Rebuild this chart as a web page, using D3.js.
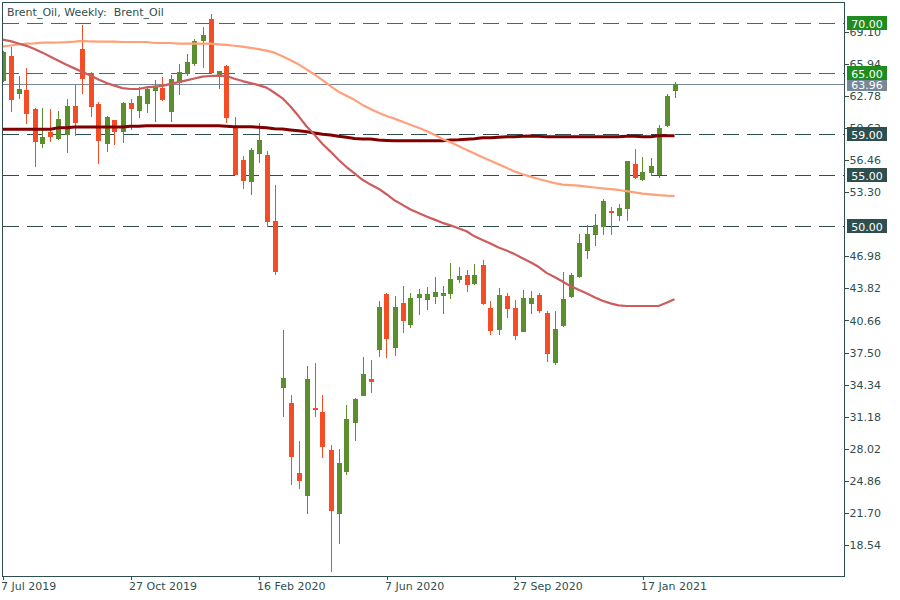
<!DOCTYPE html>
<html><head><meta charset="utf-8">
<script src="https://cdn.jsdelivr.net/npm/d3@7"></script>
<style>
body{margin:0;background:#fff}
svg{display:block}
text{font-family:"DejaVu Sans",sans-serif;font-size:11px}
</style>
</head><body>
<svg id="chart" width="900" height="600"></svg>
<script>
const title = "Brent_Oil, Weekly:  Brent_Oil";
const xTickIndex = [0, 16, 32, 48, 64, 80];
const xTickLabels = ["7 Jul 2019", "27 Oct 2019", "16 Feb 2020", "7 Jun 2020", "27 Sep 2020", "17 Jan 2021"];
const yTickLabels = ["69.10","65.94","62.78","59.62","56.46","53.30","46.98","43.82","40.66","37.50","34.34","31.18","28.02","24.86","21.70","18.54"];
const resistanceLevels = [70, 65];
const supportLevels = [59, 55, 50];

const open = [64.35,66.72,63.07,63.37,61.53,58.18,59.23,58.67,59.00,61.79,
67.41,65.07,61.99,58.18,60.41,59.36,62.09,61.43,62.12,63.40,
63.57,61.33,64.16,65.04,66.03,68.33,70.36,64.98,65.73,59.69,
56.47,54.43,57.19,56.97,50.46,34.14,32.53,25.63,23.50,32.07,
31.65,27.90,21.72,25.86,30.69,33.35,34.87,37.88,43.27,38.08,
42.38,40.34,43.00,42.81,43.10,43.20,43.40,44.78,45.14,44.38,
46.13,41.89,39.85,43.07,41.89,39.65,42.41,43.17,41.40,36.60,
40.22,43.10,45.04,47.64,49.21,50.00,51.45,51.08,51.77,56.08,
54.63,55.32,55.09,59.92,63.40];
const high = [67.20,67.58,64.75,65.51,61.63,61.63,61.53,61.33,62.48,63.86,
69.80,65.17,62.22,60.81,60.41,62.22,62.48,63.67,63.76,64.35,
64.65,64.85,65.93,66.92,68.39,69.58,70.86,65.24,65.83,60.71,
56.87,57.66,60.09,57.36,54.01,39.72,33.32,28.79,36.18,36.47,
33.32,28.39,28.00,32.34,33.03,37.06,36.77,42.58,43.37,43.07,
44.06,43.37,43.76,43.96,44.95,44.06,46.33,45.93,45.64,46.23,
46.62,42.58,43.86,43.37,42.68,43.67,43.57,43.37,41.60,41.60,
45.44,45.37,49.21,50.07,51.15,52.63,51.84,52.13,56.37,57.56,
56.77,56.67,59.92,62.98,64.16];
const low = [64.30,61.33,62.61,60.15,55.91,57.72,58.37,58.57,57.29,58.97,
63.10,60.81,56.21,57.39,58.08,58.28,59.53,60.74,61.23,60.34,
62.41,60.34,63.00,64.85,65.83,65.64,65.07,63.57,60.22,55.09,
53.71,53.12,56.28,50.00,45.24,31.25,24.58,24.19,21.72,31.28,
27.24,16.01,18.77,25.57,28.92,33.35,33.65,37.19,37.09,37.29,
39.56,40.05,41.33,41.80,42.41,41.43,42.91,44.48,43.60,44.29,
42.31,39.36,39.36,41.03,38.87,39.65,41.43,41.53,36.70,36.40,
40.15,43.00,44.95,46.85,48.13,49.21,49.21,50.59,50.59,54.73,
54.53,55.02,54.83,59.82,62.71];
const close = [67.14,62.48,63.47,61.13,58.37,58.74,58.87,60.51,61.79,60.25,
64.58,61.79,58.47,60.71,59.36,62.09,61.63,62.78,63.47,63.67,
62.51,64.45,65.14,66.13,68.20,68.79,65.14,65.24,60.71,55.09,
54.50,57.46,58.44,50.49,45.54,35.00,27.34,24.98,34.90,31.94,
28.33,22.02,26.62,30.96,32.93,35.39,34.73,41.99,38.97,41.99,
40.74,42.88,43.27,43.27,43.47,43.37,44.75,45.04,44.29,45.14,
42.38,39.75,43.17,41.92,39.26,42.88,42.88,41.72,37.49,39.82,
42.78,45.14,48.30,49.18,50.07,52.43,51.35,51.74,56.37,54.83,
55.29,55.88,59.63,62.78,63.96];

// moving averages
const maFast = [68.33,68.18,67.95,67.72,67.40,67.05,66.65,66.25,65.85,65.50,
65.15,64.80,64.40,64.05,63.80,63.55,63.47,63.47,63.62,63.70,
63.77,63.97,64.15,64.32,64.50,64.68,64.75,64.78,64.75,64.48,
64.25,64.05,63.85,63.60,63.10,62.55,61.75,60.80,59.80,58.95,
58.05,57.30,56.50,55.78,55.15,54.52,54.05,53.65,53.10,52.50,
52.05,51.60,51.25,50.90,50.60,50.28,50.03,49.75,49.45,48.95,
48.60,48.25,47.85,47.55,47.20,46.80,46.40,45.95,45.35,44.95,
44.50,44.05,43.70,43.35,42.95,42.60,42.35,42.15,42.09,42.09,
42.09,42.09,42.09,42.40,42.75];
const maMid = [67.64,67.75,67.85,67.93,67.97,68.03,68.03,68.05,68.08,68.13,
68.20,68.15,68.13,68.13,68.13,68.10,68.10,68.10,68.10,68.00,
68.00,68.00,67.93,67.93,67.93,67.93,67.93,67.87,67.82,67.73,
67.65,67.52,67.40,67.25,67.05,66.70,66.30,65.90,65.40,64.90,
64.35,63.75,63.20,62.80,62.40,61.90,61.50,61.12,60.80,60.55,
60.25,59.95,59.65,59.33,58.95,58.55,58.22,57.85,57.47,57.12,
56.75,56.40,56.05,55.70,55.35,55.07,54.83,54.60,54.40,54.20,
54.04,54.00,53.95,53.85,53.76,53.68,53.60,53.52,53.40,53.28,
53.16,53.08,53.01,52.96,52.93];
const maSlow = [59.50,59.50,59.50,59.50,59.50,59.50,59.50,59.66,59.66,59.72,
59.72,59.72,59.72,59.72,59.72,59.72,59.79,59.79,59.85,59.85,
59.85,59.85,59.85,59.85,59.85,59.85,59.85,59.85,59.80,59.75,
59.75,59.75,59.70,59.66,59.55,59.52,59.43,59.35,59.25,59.13,
59.02,58.94,58.82,58.71,58.60,58.54,58.54,58.44,58.40,58.37,
58.37,58.37,58.37,58.37,58.37,58.37,58.45,58.47,58.52,58.57,
58.67,58.67,58.72,58.77,58.77,58.82,58.84,58.80,58.77,58.77,
58.77,58.77,58.77,58.77,58.77,58.77,58.77,58.77,58.82,58.82,
58.77,58.77,58.87,58.87,58.87];

const C = {
  frame: "#2f4f4f", bull: "#5b8f2e", bear: "#f44d26",
  res: "#1e8c1e", sup: "#2f4f4f", bid: "#778899",
  maFast: "#cd5c5c", maMid: "#ffa07a", maSlow: "#800000"
};
const L = 2, R = 844, T = 2, B = 575.7;

const svg = d3.select("#chart");
const x = d3.scaleLinear().domain([0, 84]).range([2.5, 674.5]);
const y = d3.scaleLinear().domain([15.517, 72.039]).range([B, T]);

svg.append("defs").append("clipPath").attr("id", "plot")
  .append("rect").attr("x", L).attr("y", T).attr("width", R - L).attr("height", B - T);

const plot = svg.append("g").attr("clip-path", "url(#plot)");

// levels
const lev = plot.append("g").attr("shape-rendering", "crispEdges");
resistanceLevels.forEach(v => lev.append("line").attr("x1", L + 1).attr("x2", R).attr("y1", Math.round(y(v)) + 0.5).attr("y2", Math.round(y(v)) + 0.5)
  .attr("stroke", C.res).attr("stroke-dasharray", "16,8"));
supportLevels.forEach(v => lev.append("line").attr("x1", L + 1).attr("x2", R).attr("y1", Math.round(y(v)) + 0.5).attr("y2", Math.round(y(v)) + 0.5)
  .attr("stroke", C.sup).attr("stroke-dasharray", "16,8"));
const last = close[close.length - 1];
lev.append("line").attr("x1", L).attr("x2", R).attr("y1", Math.round(y(last)) + 0.5).attr("y2", Math.round(y(last)) + 0.5).attr("stroke", C.bid);

// candles
const idx = d3.range(open.length);
const cg = plot.append("g").attr("shape-rendering", "crispEdges");
idx.forEach(i => {
  const cx = Math.round(x(i));
  const col = close[i] >= open[i] ? C.bull : C.bear;
  cg.append("line").attr("x1", cx + 0.5).attr("x2", cx + 0.5)
    .attr("y1", Math.round(y(high[i]))).attr("y2", Math.round(y(low[i])) + 1).attr("stroke", col);
  const yt = Math.round(y(Math.max(open[i], close[i])));
  const yb = Math.round(y(Math.min(open[i], close[i])));
  cg.append("rect").attr("x", cx - 2).attr("y", yt).attr("width", 5).attr("height", Math.max(1, yb - yt + 1)).attr("fill", col);
});

// moving averages
const line = d3.line().x((d, i) => x(i)).y(d => y(d));
[[maSlow, C.maSlow, 3], [maMid, C.maMid, 2.2], [maFast, C.maFast, 2.2]].forEach(([arr, col, w]) => {
  plot.append("path").datum(arr).attr("d", line).attr("fill", "none").attr("stroke", col).attr("stroke-width", w).attr("stroke-linejoin", "round");
});

// frame
svg.append("rect").attr("x", L + 0.5).attr("y", T + 0.5).attr("width", R - L).attr("height", B - T)
  .attr("fill", "none").attr("stroke", C.frame).attr("shape-rendering", "crispEdges");

// y axis
const yAxis = d3.axisRight(y).tickValues(yTickLabels.map(Number)).tickFormat((d, i) => yTickLabels[i]).tickSize(4).tickPadding(1);
const ya = svg.append("g").attr("transform", `translate(${R + 0.5},0)`).call(yAxis);
ya.select(".domain").remove();
ya.selectAll("line").attr("stroke", C.frame).attr("shape-rendering", "crispEdges");
ya.selectAll("text").attr("fill", C.frame).style("font-family", "DejaVu Sans").style("font-size", "11px");

// x axis
const xAxis = d3.axisBottom(x).tickValues(xTickIndex).tickFormat((d, i) => xTickLabels[i]).tickSize(4).tickPadding(2);
const xa = svg.append("g").attr("transform", `translate(0,${B + 0.5})`).call(xAxis);
xa.select(".domain").remove();
xa.selectAll("line").attr("stroke", C.frame).attr("shape-rendering", "crispEdges");
xa.selectAll("text").attr("fill", C.frame).attr("text-anchor", "start").attr("dx", "-2").style("font-family", "DejaVu Sans").style("font-size", "11px");

// price labels
function priceLabel(v, col) {
  const yy = Math.round(y(v));
  svg.append("rect").attr("x", R + 3).attr("y", yy - 7).attr("width", 40).attr("height", 14).attr("fill", col).attr("shape-rendering", "crispEdges");
  svg.append("text").attr("x", R + 23).attr("y", yy + 4.5).attr("text-anchor", "middle").attr("fill", "#fff").text(v.toFixed(2));
}
priceLabel(last, C.bid);
resistanceLevels.forEach(v => priceLabel(v, C.res));
supportLevels.forEach(v => priceLabel(v, C.sup));

// title
svg.append("text").attr("x", 7).attr("y", 16).attr("fill", C.frame).style("white-space", "pre").text(title);
</script>
</body></html>
